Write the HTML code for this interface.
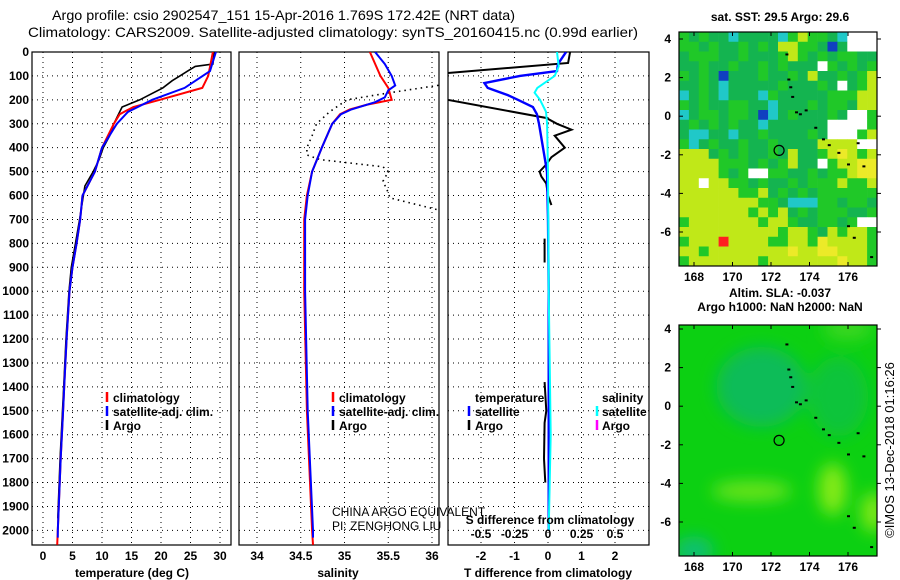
<!DOCTYPE html>
<html><head><meta charset="utf-8">
<style>
html,body{margin:0;padding:0;background:#fff;}
svg{display:block;font-family:"Liberation Sans",sans-serif;}
.t{font-size:12px;font-weight:bold;}
.ti{font-size:14px;}
</style></head>
<body>
<svg id="chart" width="900" height="580" viewBox="0 0 900 580">
<text class="ti" x="52" y="20" textLength="463" lengthAdjust="spacingAndGlyphs">Argo profile: csio 2902547_151 15-Apr-2016 1.769S 172.42E (NRT data)</text>
<text class="ti" x="28" y="37" textLength="610" lengthAdjust="spacingAndGlyphs">Climatology: CARS2009. Satellite-adjusted climatology: synTS_20160415.nc (0.99d earlier)</text>
<g id="g"></g>
</svg>
<script>
// ---- data ----
const depthTicks=[0,100,200,300,400,500,600,700,800,900,1000,1100,1200,1300,1400,1500,1600,1700,1800,1900,2000];
const tempTicks=[0,5,10,15,20,25,30];
const salTicks=[34,34.5,35,35.5,36];
const salTickLabels=["34","34.5","35","35.5","36"];
const dTTicks=[-2,-1,0,1,2];
const dSTicks=[-0.5,-0.25,0,0.25,0.5];
const dSTickLabels=["-0.5","-0.25","0","0.25","0.5"];
// temperature profiles
const climT_depth=[0,100,150,200,230,260,300,400,500,600,700,800,900,1000,1200,1400,1500,1700,2000,2060];
const climT_val=[28.8,28,27,19.8,15.3,13,12,10,8.8,6.7,6.3,5.7,5,4.5,4.0,3.6,3.4,3.0,2.5,2.4];
const satT_depth=[0,80,150,200,250,300,400,500,600,700,800,900,1000,1200,1400,1500,1700,2000,2030];
const satT_val=[29.3,28.3,24,18.5,14.4,12.5,10,8.8,6.7,6.3,5.7,5,4.5,4.0,3.6,3.4,3.0,2.5,2.5];
const argoT_depth=[0,50,60,80,100,120,150,200,230,300,350,400,450,500,560,700,800,900,1000,1200,1400,1500,1700,1950];
const argoT_val=[29.0,28.8,25.8,24.5,23.2,21.9,20.3,16.4,13.4,12,11.3,10.2,9.5,8.5,7.1,6.2,5.5,4.8,4.4,3.9,3.5,3.3,2.9,2.5];
// salinity profiles
const climS_depth=[0,100,150,200,220,240,260,300,400,500,600,700,1000,1500,2000,2060];
const climS_val=[35.29,35.41,35.5,35.54,35.26,35.06,34.95,34.86,34.74,34.63,34.57,34.54,34.54,34.57,34.63,34.64];
const satS_depth=[0,50,100,140,160,190,210,240,260,300,400,500,600,700,1000,1500,2000,2030];
const satS_val=[35.35,35.46,35.54,35.58,35.5,35.46,35.35,35.08,34.96,34.86,34.74,34.63,34.58,34.55,34.55,34.58,34.64,34.64];
const argoS_depth=[100,140,170,200,250,300,350,400,430,450,480,500,540,580,610,660];
const argoS_val=[36.5,36.06,35.52,35.03,34.83,34.68,34.63,34.57,34.57,34.72,35.44,35.5,35.44,35.49,35.52,36.07];
// differences
const dTsat_depth=[0,50,80,100,130,150,180,200,230,260,300,400,500,700,1000,1500,2000];
const dTsat_val=[0.54,0.3,0.27,-0.84,-1.9,-1.8,-1.2,-0.9,-0.45,-0.33,-0.27,-0.15,-0.03,0.0,0.02,0.02,0.02];
const dTargo_depth=[0,46,88,null,200,276,300,325,350,400,440,470,500,520,550,600,640,null,780,880,null,1380,1500,1550,1700,1800];
const dTargo_val=[0.66,0.6,-3,null,-3,-0.05,0.27,0.7,0.2,0.5,0.1,-0.05,-0.25,-0.2,-0.05,0.0,0.1,null,-0.1,-0.1,null,-0.1,-0.05,-0.1,-0.12,-0.08];
const dSsat_depth=[0,60,100,150,170,200,250,300,500,1000,1600,2000];
const dSsat_val=[0.067,0.08,0.05,-0.08,-0.1,-0.06,-0.015,-0.007,0.0,0.005,0.02,0.005];
// SST map grid (lat 4 -> -7.7, lon 167.3 -> 177.6)
const sstRows=[
"gdgddcddddcgyggdcwww","ggdgddgdgdyyggdBdwww","dgggddgdddgygdgdggdd","ddgddgddgdgdddwgdgdg",
"gdgdBdddgddgdyddgdgy","ddgdcdddddgdddgdwdgy","cdgdcdddcgdddddgggyy","gdgddggddcdddgdggdyy",
"cdggdggdBcdgdddgdwwg","dgdgdgddcddddddwwwwg","dccddcddgddddgdwwwgy","gcdgddgddgddddyyyyww",
"yyydgdgddgdyddgyYygy","yyyygggdgdgyddwgyyYY","yyyygdgwwggddgdggyYY","yywyyggdgddgdgggyggy",
"yyyyyyggydgdgdgggggg","yyyyyyyyggdcccggdggd","yyyyyyygygydgdgggddg","gyyyyyyygyygddggdgww",
"yyyyyyyyyygyygdygyyg","gyyyRyyyyggyygYyyyyg","yygyyyyyyyyYyyYYyyyg","gyyyyyyygyyyyyyyYyyg"];
const islandLon=[172.8,172.9,173.0,173.1,173.3,173.5,173.8,174.3,174.7,175.0,175.5,176.0,176.5,176.8,176.0,176.3,177.2];
const islandLat=[3.2,1.9,1.5,1.0,0.2,0.1,0.3,-0.6,-1.2,-1.5,-1.9,-2.5,-1.4,-2.6,-5.7,-6.3,-7.3];
const argoLon=[172.42];
const argoLat=[-1.77];
const lonTicks=[168,170,172,174,176];
const latTicks=[4,2,0,-2,-4,-6];

// ---- helpers ----
const NS="http://www.w3.org/2000/svg";
const G=document.getElementById('g');
function mk(tag,attrs,parent){const e=document.createElementNS(NS,tag);for(const k in attrs)e.setAttribute(k,attrs[k]);(parent||G).appendChild(e);return e;}
const yD=d=>52+d*0.2392;
const TOP=52,BOT=545;
function path(xs,ds,fx){let s="",pen=false;for(let i=0;i<xs.length;i++){if(xs[i]===null||ds[i]===null){pen=false;continue;}s+=(pen?"L":"M")+fx(xs[i]).toFixed(1)+","+yD(ds[i]).toFixed(1);pen=true;}return s;}

function panel(name,x0,x1,ticks,labels,fx){
  const p=mk('g',{},G);
  
  
  const cp=mk('clipPath',{id:'cp-'+name},p);mk('rect',{x:x0,y:TOP,width:x1-x0,height:BOT-TOP},cp);
  depthTicks.forEach(d=>{const l=mk('line',{x1:x0,x2:x1,y1:yD(d),y2:yD(d),stroke:'#000','stroke-dasharray':'1,4','stroke-width':1},p);
    });
  ticks.forEach((t,i)=>{const x=fx(t);const l=mk('line',{x1:x,x2:x,y1:TOP,y2:BOT,stroke:'#000','stroke-dasharray':'1,4','stroke-width':1},p);
    
    const tx=mk('text',{x:x,y:560,'text-anchor':'middle',class:'t'},p);tx.textContent=labels[i];
    });
  const r=mk('rect',{x:x0,y:TOP,width:x1-x0,height:BOT-TOP,fill:'none',stroke:'#000','stroke-width':1.2},p);
  
  return p;
}
function series(p,name,xs,ds,fx,color,w,dash,clip){
  const e=mk('path',{d:path(xs,ds,fx),fill:'none',stroke:color,'stroke-width':w,'clip-path':'url(#cp-'+clip+')'},p);
  if(dash)e.setAttribute('stroke-dasharray',dash);
  
  
}
function txt(p,name,x,y,s,cls,anchor){const t=mk('text',{x:x,y:y,class:cls||'t','text-anchor':anchor||'start'},p);t.textContent=s;
  return t;}
function legendMark(p,x,y,color){const l=mk('line',{x1:x,x2:x,y1:y-10,y2:y,stroke:color,'stroke-width':2.5},p);
  }

// depth axis labels
depthTicks.forEach(d=>{const t=txt(G,'y-tick-label',29,yD(d)+4,String(d),'t','end');});

// ---- panel 1 temperature ----
const fT=t=>43+t*5.9;
const p1=panel('temperature-panel',32,231,tempTicks,tempTicks.map(String),fT);
series(p1,'argo-temperature-line',argoT_val,argoT_depth,fT,'#000',1.6,null,'temperature-panel');
series(p1,'climatology-temperature-line',climT_val,climT_depth,fT,'#f00',2,null,'temperature-panel');
series(p1,'satellite-temperature-line',satT_val,satT_depth,fT,'#00f',2,null,'temperature-panel');
txt(p1,'x-axis-title',132,577,'temperature (deg C)','t','middle');
legendMark(p1,107,402,'#f00');txt(p1,'legend-climatology',113,402,'climatology');
legendMark(p1,107,416,'#00f');txt(p1,'legend-satellite',113,416,'satellite-adj. clim.');
legendMark(p1,107,430,'#000');txt(p1,'legend-argo',113,430,'Argo');

// ---- panel 2 salinity ----
const fS=s=>257+(s-34)*87.5;
const p2=panel('salinity-panel',239,439,salTicks,salTickLabels,fS);
series(p2,'argo-salinity-line',argoS_val,argoS_depth,fS,'#000',1.6,'1.5,4','salinity-panel');
series(p2,'climatology-salinity-line',climS_val,climS_depth,fS,'#f00',2,null,'salinity-panel');
series(p2,'satellite-salinity-line',satS_val,satS_depth,fS,'#00f',2,null,'salinity-panel');
txt(p2,'x-axis-title',338,577,'salinity','t','middle');
legendMark(p2,333,402,'#f00');txt(p2,'legend-climatology',339,402,'climatology');
legendMark(p2,333,416,'#00f');txt(p2,'legend-satellite',339,416,'satellite-adj. clim.');
legendMark(p2,333,430,'#000');txt(p2,'legend-argo',339,430,'Argo');
const c1=txt(G,'pi-credit-line-1',332,516,'CHINA ARGO EQUIVALENT','t');c1.setAttribute('style','font-weight:normal;font-size:12px');
const c2=txt(G,'pi-credit-line-2',332,530,'PI: ZENGHONG LIU','t');c2.setAttribute('style','font-weight:normal;font-size:12px');

// ---- panel 3 differences ----
const fdT=t=>548+t*33.5;
const fdS=s=>548+s*134;
const p3=panel('difference-panel',448,649,dTTicks,dTTicks.map(String),fdT);
series(p3,'argo-temperature-difference-line',dTargo_val,dTargo_depth,fdT,'#000',2,null,'difference-panel');
series(p3,'satellite-temperature-difference-line',dTsat_val,dTsat_depth,fdT,'#00f',2.4,null,'difference-panel');
series(p3,'satellite-salinity-difference-line',dSsat_val,dSsat_depth,fdS,'#0ff',2,null,'difference-panel');
dSTicks.forEach((s,i)=>{txt(p3,'s-diff-tick-label',fdS(s),538,dSTickLabels[i],'t','middle');});
txt(p3,'s-diff-axis-title',550,524,'S difference from climatology','t','middle');
txt(p3,'x-axis-title',548,577,'T difference from climatology','t','middle');
txt(p3,'legend-temperature-header',475,402,'temperature');
legendMark(p3,469,416,'#00f');txt(p3,'legend-t-satellite',475,416,'satellite');
legendMark(p3,469,430,'#000');txt(p3,'legend-t-argo',475,430,'Argo');
txt(p3,'legend-salinity-header',602,402,'salinity');
legendMark(p3,597,416,'#0ff');txt(p3,'legend-s-satellite',602,416,'satellite');
legendMark(p3,597,430,'#f0f');txt(p3,'legend-s-argo',602,430,'Argo');

// ---- maps ----
const cmap={d:'#14b450',g:'#20c828',y:'#c0e818',Y:'#ecea28',c:'#20c8c8',B:'#1040c0',w:'#ffffff',R:'#ff2020'};
function mapFrame(name,top,bottom,lat4y,latm6y){
  const m=mk('g',{},G);
  
  
  const fx=lon=>694+(lon-168)*19.25;
  const fy=lat=>lat4y+(4-lat)*(latm6y-lat4y)/10;
  return {m,fx,fy,top,bottom};
}
function mapAxes(o){
  const {m,fx,fy,top,bottom}=o;
  mk('rect',{x:679,y:top,width:198,height:bottom-top,fill:'none',stroke:'#000','stroke-width':1.2},m);
  lonTicks.forEach(l=>{mk('line',{x1:fx(l),x2:fx(l),y1:top,y2:top+4,stroke:'#000'},m);mk('line',{x1:fx(l),x2:fx(l),y1:bottom,y2:bottom-4,stroke:'#000'},m);
    txt(m,'lon-tick-label',fx(l),bottom+15,String(l),'t','middle');});
  latTicks.forEach(l=>{mk('line',{x1:679,x2:683,y1:fy(l),y2:fy(l),stroke:'#000'},m);mk('line',{x1:877,x2:881,y1:fy(l),y2:fy(l),stroke:'#000'},m);
    txt(m,'lat-tick-label',671,fy(l)+4,String(l),'t','end');});
  islandLon.forEach((lo,i)=>{const r=mk('rect',{x:fx(lo)-1,y:fy(islandLat[i])-1,width:3,height:2,fill:'#000'},m);
    });
  argoLon.forEach((lo,i)=>{const c=mk('circle',{cx:fx(lo),cy:fy(argoLat[i]),r:5,fill:'none',stroke:'#000','stroke-width':1.2},m);
    });
}
// SST map
const sst=mapFrame('sst-map',32,266,39,232);
const nr=sstRows.length,nc=sstRows[0].length,cw=198/nc,ch=234/nr;
sstRows.forEach((row,r)=>{for(let c=0;c<nc;c++){const e=mk('rect',{x:679+c*cw,y:32+r*ch,width:cw+0.3,height:ch+0.3,fill:cmap[row[c]]},sst.m);
  }});
mapAxes(sst);
txt(G,'sst-map-title',780,21,'sat. SST: 29.5 Argo: 29.6','t','middle');
// SLA map
const sla=mapFrame('sla-map',325,556,329,522);
const defs=mk('defs',{},G);const f=mk('filter',{id:'blur'},defs);mk('feGaussianBlur',{stdDeviation:8},f);
const cpm=mk('clipPath',{id:'cp-sla'},defs);mk('rect',{x:679,y:325,width:198,height:231},cpm);
const bg=mk('g',{'clip-path':'url(#cp-sla)'},sla.m);
mk('rect',{x:679,y:325,width:198,height:231,fill:'#0cd012'},bg);
const blobs=mk('g',{filter:'url(#blur)'},bg);
mk('ellipse',{cx:sla.fx(171.5),cy:sla.fy(1),rx:45,ry:40,fill:'#10bc58'},blobs);
mk('ellipse',{cx:sla.fx(175.5),cy:sla.fy(0.5),rx:30,ry:40,fill:'#08c43a'},blobs);
mk('ellipse',{cx:sla.fx(171),cy:sla.fy(-4.4),rx:40,ry:10,fill:'#6ae41c'},blobs);
mk('ellipse',{cx:sla.fx(175.2),cy:sla.fy(-4.3),rx:14,ry:26,fill:'#84ea18'},blobs);
mk('ellipse',{cx:sla.fx(177.3),cy:sla.fy(-5.5),rx:12,ry:20,fill:'#80e818'},blobs);
mk('ellipse',{cx:sla.fx(168),cy:sla.fy(-7.5),rx:20,ry:15,fill:'#10c070'},blobs);
mk('ellipse',{cx:sla.fx(176),cy:sla.fy(4),rx:25,ry:10,fill:'#40d820'},blobs);
mapAxes(sla);
txt(G,'sla-map-title',780,297,'Altim. SLA: -0.037','t','middle');
txt(G,'sla-map-subtitle',780,311,'Argo h1000: NaN h2000: NaN','t','middle');
const cr=txt(G,'imos-credit',0,0,'©IMOS 13-Dec-2018 01:16:26','t','middle');
cr.setAttribute('style','font-weight:normal;font-size:13px');
cr.setAttribute('transform','translate(894,450) rotate(-90)');
</script>
</body></html>
